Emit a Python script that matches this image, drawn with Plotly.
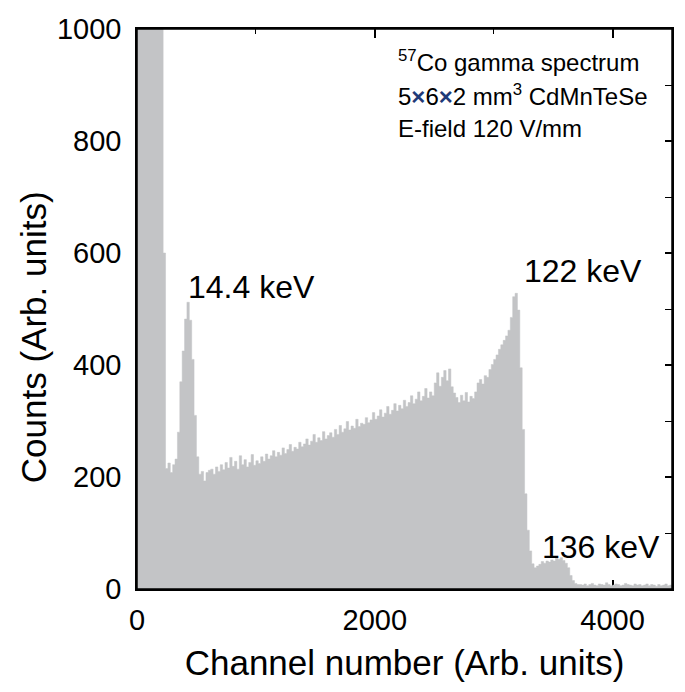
import numpy as np
import plotly.graph_objects as go

# ---- data: 57Co spectrum, counts per 20-channel bin starting at channel 0 ----
bin_width = 20
counts = [
    # 0-219 : off-scale low-energy noise
    3000, 3000, 3000, 3000, 3000, 3000, 3000, 3000, 3000, 3000, 3000,
    # 220-339
    600, 215, 225, 208, 222, 232,
    # 340-619 : 14.4 keV peak
    280, 370, 425, 482, 512, 480, 410, 310, 236, 205, 210, 193, 208, 212,
    # 620-1059
    214, 205, 218, 210, 222, 213, 226, 216, 235, 219, 228, 214, 238, 222,
    231, 218, 226, 240, 221, 229, 224, 236,
    # 1060-1339
    228, 241, 232, 238, 247, 236, 244, 239, 252, 242, 249, 258, 246, 253,
    # 1340-1619
    250, 262, 254, 259, 268, 257, 264, 276, 262, 270, 265, 281, 268, 274,
    # 1620-1899
    279, 271, 285, 276, 292, 280, 286, 299, 284, 291, 287, 303, 290, 296,
    # 1900-2179
    294, 306, 297, 302, 315, 303, 309, 320, 307, 314, 326, 312, 319, 331,
    # 2180-2459
    318, 328, 322, 337, 326, 333, 345, 331, 339, 352, 336, 344, 358, 341,
    # 2460-2859
    352, 345, 368, 386, 362, 378, 390, 372, 393, 361, 350, 342, 333, 346,
    336, 351, 334, 344, 340, 352,
    # 2860-3219 : 122 keV peak
    368, 374, 366, 381, 378, 392, 401, 410, 418, 428, 436, 444, 452, 462,
    485, 522, 528, 498,
    # 3220-3719 : edge and 136 keV bump
    395, 285, 170, 105, 68, 45, 38, 41, 44, 49, 46, 50, 48, 52, 50, 55, 53,
    56, 51, 46, 38, 24, 15, 10, 8,
    # 3720-4499 : tail
    8, 7, 9, 6, 8, 10, 7, 6, 9, 8, 7, 11, 8, 6, 7, 9, 8, 6, 7, 10, 8, 7, 6,
    9, 7, 8, 6, 7, 9, 6, 8, 7, 5, 8, 6, 7, 9, 6, 7,
]
channels = [i * bin_width for i in range(len(counts))]

x_ticks = [0, 2000, 4000]
y_ticks = [0, 200, 400, 600, 800, 1000]

peak_labels = ["14.4 keV", "122 keV", "136 keV"]
peak_label_x = [410, 3240, 3390]
peak_label_y = [539, 568, 75]

info_lines = [
    "<sup>57</sup>Co gamma spectrum",
    "5<span style='color:#1f3a78'><b>×</b></span>6<span style='color:#1f3a78'><b>×</b></span>2 mm<sup>3</sup> CdMnTeSe",
    "E-field 120 V/mm",
]
info_y = [943, 882, 823]
info_x = 2175

# step outline: append the right edge of the final bin
xs = channels + [channels[-1] + bin_width]
ys = counts + [counts[-1]]

FONT = "Liberation Sans, Arial, sans-serif"
GRAY = "#c3c4c6"

fig = go.Figure()
fig.add_trace(go.Scatter(
    x=xs, y=ys, mode="lines", line=dict(shape="hv", width=0.5, color=GRAY),
    fill="tozeroy", fillcolor=GRAY, hoverinfo="skip", showlegend=False,
))

for t, xv, yv in zip(peak_labels, peak_label_x, peak_label_y):
    fig.add_annotation(x=xv, y=yv, text=t, showarrow=False, xanchor="left",
                       yanchor="middle", font=dict(family=FONT, size=32, color="black"))

for t, yv in zip(info_lines, info_y):
    fig.add_annotation(x=info_x, y=yv, text=t, showarrow=False, xanchor="left",
                       yanchor="middle", font=dict(family=FONT, size=24, color="black"))

# y-axis title (placed slightly below the plot centre, as in the reference)
fig.add_annotation(xref="paper", yref="paper", x=-0.194, y=0.45, text="Counts (Arb. units)",
                   textangle=-90, showarrow=False, xanchor="center", yanchor="middle",
                   font=dict(family=FONT, size=35, color="black"))

fig.add_shape(type="rect", xref="paper", yref="paper", x0=0, x1=1, y0=0, y1=1,
              line=dict(color="black", width=1.5), layer="above")

fig.update_layout(
    width=685, height=692,
    margin=dict(l=137, r=13, t=29, b=103),
    paper_bgcolor="white", plot_bgcolor="white",
    font=dict(family=FONT, color="black"),
    xaxis=dict(
        range=[0, 4500], tickvals=x_ticks, ticks="inside", ticklen=9, tickwidth=1.5,
        tickcolor="black", showline=True, linecolor="black", linewidth=1.5,
        mirror="ticks", showgrid=False, zeroline=False, layer="below traces",
        tickfont=dict(size=29), ticklabelstandoff=4,
        minor=dict(dtick=1000, ticks="inside", ticklen=5, tickwidth=1.2, tickcolor="black"),
        title=dict(text="Channel number (Arb. units)", font=dict(size=35), standoff=16),
    ),
    yaxis=dict(
        range=[0, 1000], tickvals=y_ticks, ticks="inside", ticklen=7, tickwidth=1.5,
        tickcolor="black", showline=True, linecolor="black", linewidth=1.5,
        mirror="ticks", showgrid=False, zeroline=False, layer="below traces",
        tickfont=dict(size=29), ticklabelstandoff=8,
        minor=dict(dtick=100, ticks="inside", ticklen=7, tickwidth=1.2, tickcolor="black"),
    ),
)

fig.write_html("out.html")
